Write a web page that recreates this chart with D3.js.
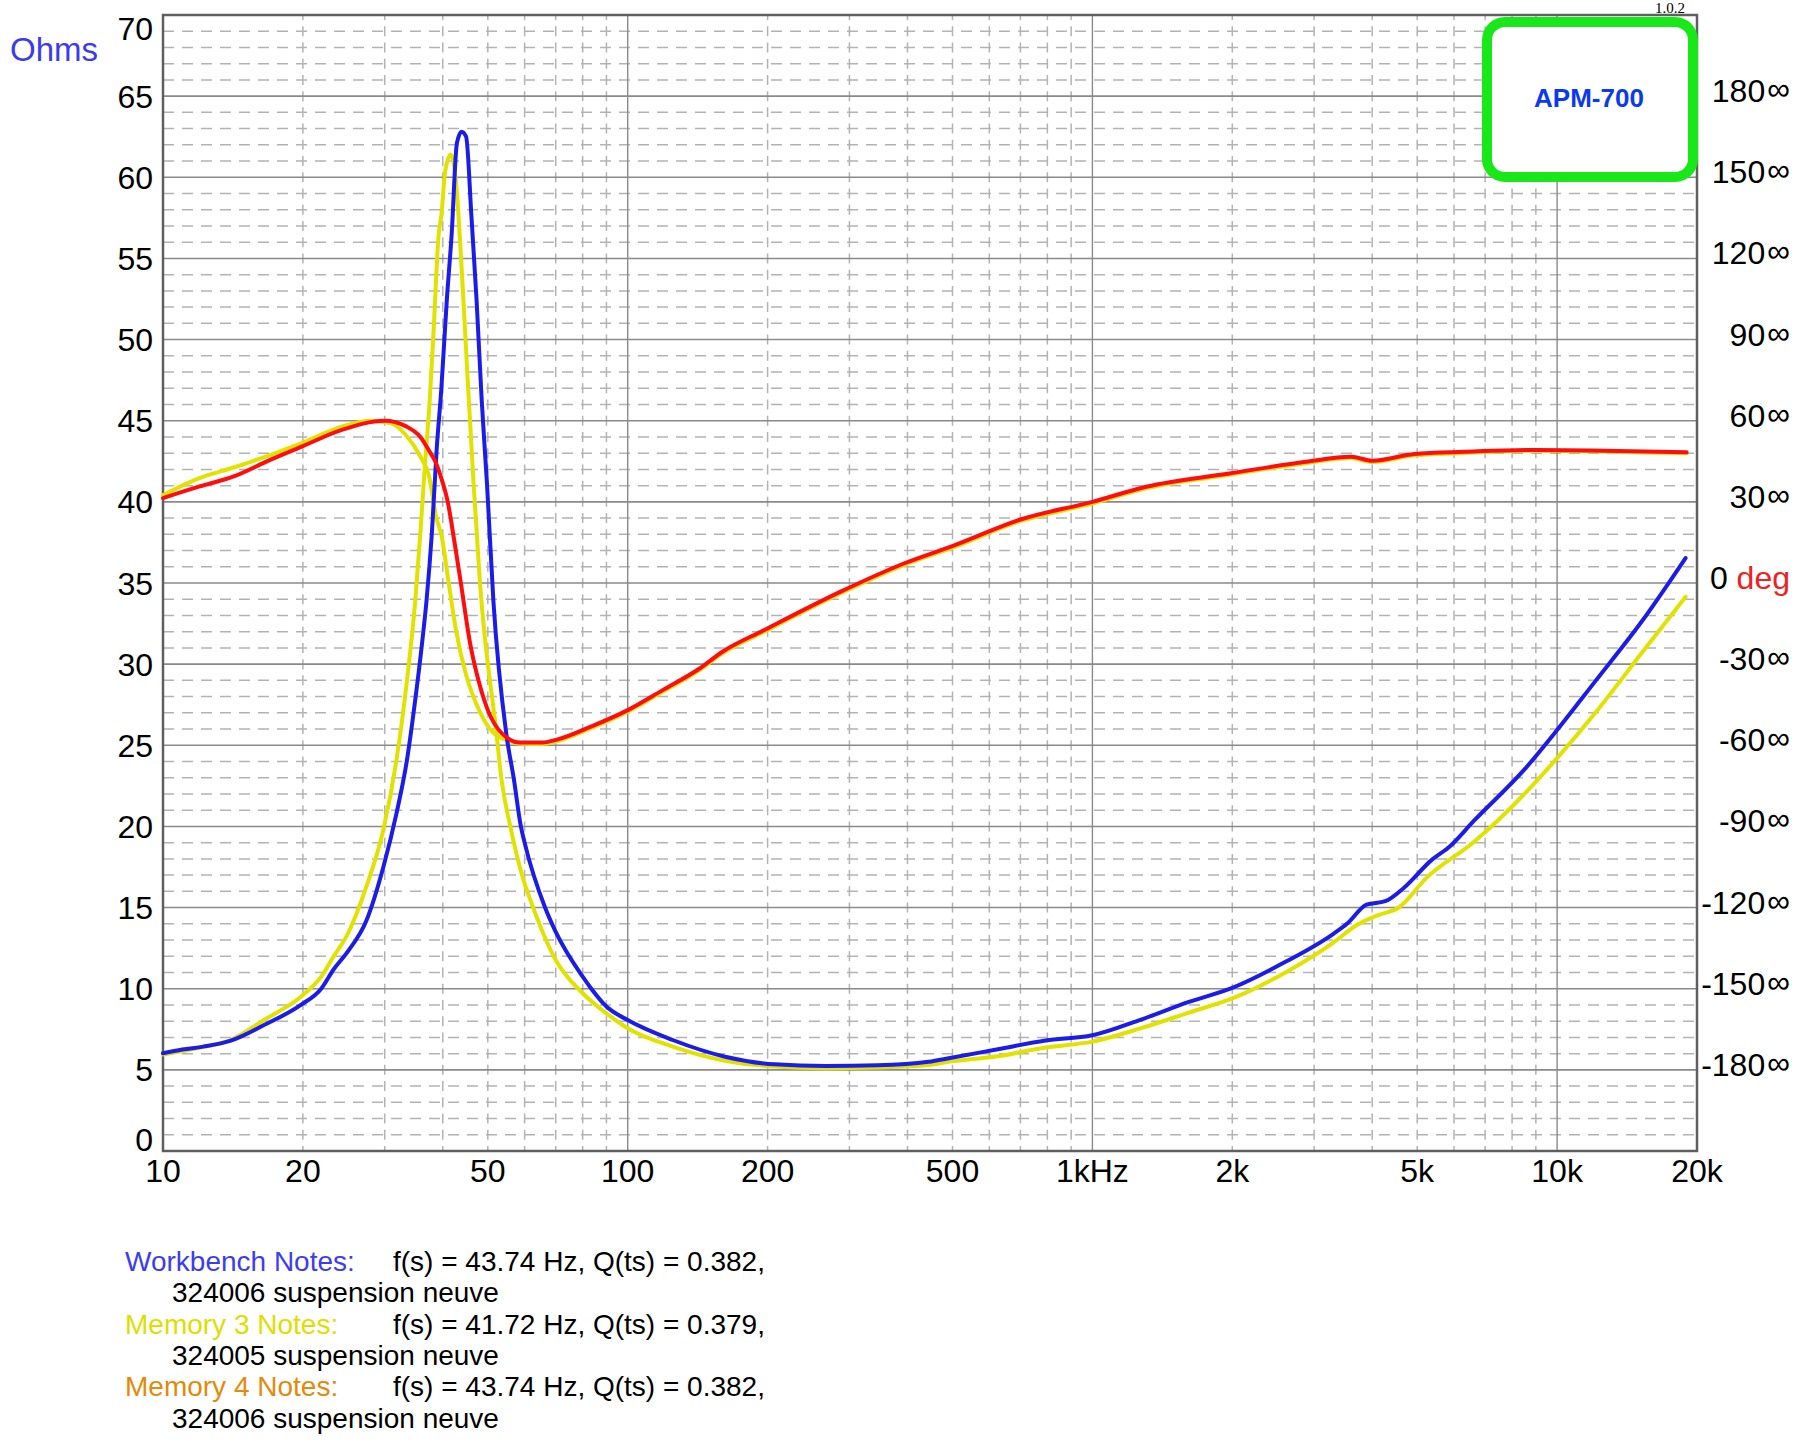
<!DOCTYPE html>
<html><head><meta charset="utf-8">
<title>APM-700 impedance</title>
<script src="https://cdn.jsdelivr.net/npm/d3@7"></script>
<style>
body { margin: 0; background: #fff; }
text { font-family: "Liberation Sans", Arial, sans-serif; }
</style>
</head>
<body>
<script>

// axis ticks
var freqTicks  = [10, 20, 50, 100, 200, 500, 1000, 2000, 5000, 10000, 20000];
var freqLabels = ["10", "20", "50", "100", "200", "500", "1kHz", "2k", "5k", "10k", "20k"];
var ohmTicks   = [0, 5, 10, 15, 20, 25, 30, 35, 40, 45, 50, 55, 60, 65, 70];
var phaseTicks = [180, 150, 120, 90, 60, 30, 0, -30, -60, -90, -120, -150, -180];

// Workbench impedance (blue)
var benchFreq = [10, 11, 12.2, 14, 16.5, 19.8, 21.9, 23.3, 25, 27.4, 29.8, 31.8, 33.5, 34.9, 36.1, 36.9, 37.9, 38.8, 39.7, 40.8, 41.8, 42.9, 43.9, 44.9, 46.1, 47.3, 48.5, 49.8, 51.4, 54.8, 56.9, 58.9, 60, 66.4, 70, 80, 83.5, 90, 100, 125, 162, 207, 267, 345, 444, 494, 626, 793, 1000, 1273, 1613, 2000, 2609, 3307, 3546, 3890, 4266, 4677, 5373, 5891, 6609, 8536, 10000, 12100, 15220, 18900];
var benchOhms = [6.02, 6.25, 6.43, 6.8, 7.76, 9.0, 10.0, 11.2, 12.3, 14.2, 17.5, 20.8, 24.1, 27.8, 31.3, 33.9, 38.1, 43.2, 46.9, 52.4, 56.5, 62.1, 62.8, 62.5, 57.6, 52.4, 46.3, 41.1, 33.9, 25.7, 22.9, 20.0, 19.0, 15.0, 13.5, 10.74, 10.0, 8.9, 8.07, 6.84, 5.81, 5.34, 5.24, 5.28, 5.5, 5.73, 6.27, 6.81, 7.13, 8.1, 9.19, 10.05, 11.67, 13.4, 14.05, 15.18, 15.39, 16.21, 17.94, 18.8, 20.32, 23.56, 25.94, 28.97, 32.64, 36.54];

// Memory 3 impedance (yellow)
var mem3Freq = [10, 12.2, 14, 16.5, 19.8, 21.9, 23.3, 25, 27.4, 29.8, 31.8, 33.5, 34.9, 35.8, 36.6, 37.5, 38.2, 39.2, 39.7, 40.5, 41.6, 42.8, 43.9, 45.1, 46.6, 48.1, 52.2, 53.5, 55.9, 59.1, 62.6, 70, 80, 90, 100, 125, 162, 207, 267, 345, 444, 494, 626, 793, 1000, 1273, 1613, 2046, 2609, 3307, 3714, 4074, 4571, 5248, 6609, 8536, 10000, 12100, 15220, 18900];
var mem3Ohms = [5.95, 6.4, 6.85, 8.07, 9.5, 10.74, 12.0, 13.4, 16.3, 19.8, 24.1, 29.0, 33.9, 38.1, 42.2, 46.3, 50.4, 56.5, 57.6, 60.4, 61.4, 59.4, 54.5, 48.3, 41.1, 35.0, 25.7, 22.9, 20.0, 17.1, 15.0, 11.77, 9.72, 8.48, 7.56, 6.43, 5.56, 5.2, 5.1, 5.15, 5.3, 5.51, 5.84, 6.38, 6.74, 7.57, 8.53, 9.51, 11.02, 12.86, 13.94, 14.48, 15.02, 16.86, 19.02, 22.05, 24.21, 27.02, 30.7, 34.15];

// Memory 4 phase (red)
var mem4PhaseFreq = [10, 11.94, 14.25, 17, 20, 24.24, 30, 33.3, 35.8, 37.5, 38.4, 39.5, 41.0, 42.4, 43.75, 45.8, 47.5, 50, 53.6, 58.7, 65.5, 70.1, 83.6, 100, 118.9, 142, 160, 196.8, 287.3, 394, 506, 695, 1000, 1305, 1970, 2879, 3602, 4003, 4931, 6318, 8763, 11800, 19000];
var mem4Phase = [31.4, 35.6, 39.5, 45.5, 50.6, 56.6, 60, 58, 54, 48.5, 45.5, 40, 30, 15, 0, -22.3, -34.6, -47, -55.6, -59, -59, -58, -53, -47, -39.6, -31.9, -25.4, -17.4, -3.2, 7.3, 14, 23.3, 30, 35.6, 40.5, 44.8, 46.7, 45.2, 47.7, 48.5, 49.2, 49, 48.3];

// Memory 3 phase (yellow, mostly under the red one)
var mem3PhaseFreq = [10, 11.94, 14.25, 17, 20, 24.24, 28, 31.0, 33.3, 35.8, 37.4, 38.7, 39.8, 41.2, 42.7, 45.0, 47.5, 51.1, 54.7, 58.7, 65.5, 70.1, 83.6, 100, 118.9, 142, 160, 196.8, 287.3, 394, 506, 695, 1000, 1305, 1970, 2879, 3602, 4003, 4931, 6318, 8763, 11800, 19000];
var mem3Phase = [32.5, 38.7, 42.8, 47.3, 51.9, 57.8, 60, 59, 54.7, 46.7, 39.3, 24.5, 17.1, -0.1, -17.4, -34.6, -45.7, -55, -58, -59.4, -59.5, -58.6, -53.6, -47.6, -40.2, -32.5, -26, -18, -3.8, 6.7, 13.4, 22.7, 29.4, 35, 40, 44.3, 46.2, 44.7, 47.2, 48.1, 48.9, 48.7, 48];

// notes under the chart
var noteLabels = ["Workbench Notes:", "Memory 3 Notes:", "Memory 4 Notes:"];
var noteColors = ["#3c3cf2", "#dede00", "#e38a0a"];
var noteLine1  = ["f(s) = 43.74 Hz, Q(ts) = 0.382,", "f(s) = 41.72 Hz, Q(ts) = 0.379,", "f(s) = 43.74 Hz, Q(ts) = 0.382,"];
var noteLine2  = ["324006 suspension neuve", "324005 suspension neuve", "324006 suspension neuve"];

var width = 1800;
var height = 1440;
var svg = d3.select("body").append("svg").attr("width", width).attr("height", height);

// plot box ("top" is taken by window.top, so prefix everything)
var plotL = 163, plotR = 1697, plotT = 15, plotB = 1151;

var x = d3.scaleLog().domain([10, 20000]).range([plotL, plotR]);
var y = d3.scaleLinear().domain([0, 70]).range([plotB, plotT]);
// phase axis: 180 deg sits on 65 ohm, -180 on 5 ohm
var yp = d3.scaleLinear().domain([-210, 210]).range([plotB, plotT]);

// ---- grid
var grid = svg.append("g");

var minorOhms = d3.range(1, 70).filter(function(d) { return d % 5 != 0; });
var majorOhms = d3.range(5, 70, 5);

grid.selectAll(".hminor").data(minorOhms).enter().append("line")
	.attr("x1", plotL).attr("x2", plotR)
	.attr("y1", function(d) { return y(d); })
	.attr("y2", function(d) { return y(d); })
	.attr("stroke", "#b3b3b3")
	.attr("stroke-width", 1.5)
	.attr("stroke-dasharray", "11,8");

var minorFreq = [];
[10, 100, 1000, 10000].forEach(function(dec) {
	for (var m = 2; m <= 9; m++) {
		if (dec * m < 20000) minorFreq.push(dec * m);
	}
});

grid.selectAll(".vminor").data(minorFreq).enter().append("line")
	.attr("x1", function(d) { return x(d); })
	.attr("x2", function(d) { return x(d); })
	.attr("y1", plotT).attr("y2", plotB)
	.attr("stroke", "#b3b3b3")
	.attr("stroke-width", 1.5)
	.attr("stroke-dasharray", "10," + (y(0) - y(1) - 10))
	.attr("stroke-dashoffset", 5);

grid.selectAll(".hmajor").data(majorOhms).enter().append("line")
	.attr("x1", plotL).attr("x2", plotR)
	.attr("y1", function(d) { return y(d); })
	.attr("y2", function(d) { return y(d); })
	.attr("stroke", "#8a8a8a")
	.attr("stroke-width", 1.6);

grid.selectAll(".vmajor").data([100, 1000, 10000]).enter().append("line")
	.attr("x1", function(d) { return x(d); })
	.attr("x2", function(d) { return x(d); })
	.attr("y1", plotT).attr("y2", plotB)
	.attr("stroke", "#8a8a8a")
	.attr("stroke-width", 1.4);

svg.append("rect")
	.attr("x", plotL).attr("y", plotT)
	.attr("width", plotR - plotL).attr("height", plotB - plotT)
	.attr("fill", "none")
	.attr("stroke", "#5f5f5f")
	.attr("stroke-width", 2.5);

// ---- axis labels
svg.append("g").selectAll("text").data(ohmTicks).enter().append("text")
	.attr("x", 153)
	.attr("y", function(d) {
		var shift = d == 70 ? 13 : (d == 0 ? -12 : 0);
		return y(d) + 11.5 + shift;
	})
	.attr("text-anchor", "end")
	.attr("font-size", 32)
	.attr("fill", "#000")
	.text(function(d) { return d; });

svg.append("text")
	.attr("x", 10).attr("y", 61)
	.attr("font-size", 33)
	.attr("fill", "#3a3af0")
	.text("Ohms");

svg.append("g").selectAll("text").data(freqTicks).enter().append("text")
	.attr("x", function(d) { return x(d); })
	.attr("y", 1182)
	.attr("text-anchor", "middle")
	.attr("font-size", 32)
	.attr("fill", "#000")
	.text(function(d, i) { return freqLabels[i]; });

var phaseText = svg.append("g").selectAll("text").data(phaseTicks).enter().append("text")
	.attr("x", 1790)
	.attr("y", function(d) { return yp(d) + 6; })
	.attr("text-anchor", "end")
	.attr("font-size", 32)
	.attr("fill", "#000");

phaseText.each(function(d) {
	var t = d3.select(this);
	if (d == 0) {
		t.append("tspan").text("0 ");
		t.append("tspan").attr("fill", "#ee2020").text("deg");
	} else {
		t.append("tspan").text(d);
		t.append("tspan").attr("font-size", 32).attr("dx", 2).attr("dy", -2).text("\u221e");
	}
});

// ---- curves
function make_line(freqs, scale) {
	return d3.line()
		.x(function(d, i) { return x(freqs[i]); })
		.y(function(d) { return scale(d); })
		.curve(d3.curveMonotoneX);
}

var curves = svg.append("g").attr("fill", "none")
	.attr("stroke-width", 4)
	.attr("stroke-linejoin", "round")
	.attr("stroke-linecap", "round");

curves.append("path")
	.attr("d", make_line(mem3Freq, y)(mem3Ohms))
	.attr("stroke", "#e2e200");

curves.append("path")
	.attr("d", make_line(mem3PhaseFreq, yp)(mem3Phase))
	.attr("stroke", "#e2e200");

curves.append("path")
	.attr("d", make_line(benchFreq, y)(benchOhms))
	.attr("stroke", "#1c1ce8");

curves.append("path")
	.attr("d", make_line(mem4PhaseFreq, yp)(mem4Phase))
	.attr("stroke", "#ff0d0d");

// ---- title box
svg.append("rect")
	.attr("x", 1487).attr("y", 22)
	.attr("width", 206).attr("height", 155)
	.attr("rx", 18).attr("ry", 18)
	.attr("fill", "#fff")
	.attr("stroke", "#18e818")
	.attr("stroke-width", 10);

svg.append("text")
	.attr("x", 1589).attr("y", 107)
	.attr("text-anchor", "middle")
	.attr("font-size", 26)
	.attr("font-weight", "bold")
	.attr("fill", "#0a3af0")
	.text("APM-700");

svg.append("text")
	.attr("x", 1685).attr("y", 13)
	.attr("text-anchor", "end")
	.attr("font-size", 15)
	.style("font-family", "'Liberation Serif', 'Times New Roman', serif")
	.attr("fill", "#000")
	.text("1.0.2");

// ---- notes
var notes = svg.append("g").attr("font-size", 28);
noteLabels.forEach(function(label, i) {
	var base = 1271 + i * 62.6;
	notes.append("text").attr("x", 125).attr("y", base)
		.attr("fill", noteColors[i]).text(label);
	notes.append("text").attr("x", 393).attr("y", base)
		.attr("fill", "#000").text(noteLine1[i]);
	notes.append("text").attr("x", 172).attr("y", base + 31.3)
		.attr("fill", "#000").text(noteLine2[i]);
});

</script>
</body></html>
